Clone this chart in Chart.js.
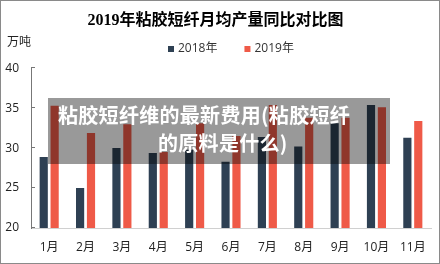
<!DOCTYPE html>
<html>
<head>
<meta charset="utf-8">
<script src="https://cdn.jsdelivr.net/npm/chart.js@4/dist/chart.umd.min.js"></script>
<style>
    body { margin: 0; background: #fff; }
    #wrap { position: relative; width: 440px; height: 264px; }
    #prodChart { display: block; }
    #frame { position: absolute; left: 0; top: 0; width: 438px; height: 262px; border: 1px solid #8a8a8a; pointer-events: none; }
    #banner { position: absolute; left: 48px; top: 98px; width: 342px; height: 66px; background: rgba(0, 0, 0, 0.4); }
    .bt { position: absolute; color: #fff; font: bold 20px "Noto Sans CJK SC", sans-serif; line-height: 24px; white-space: nowrap; letter-spacing: 0.3px; }
</style>
</head>
<body>
<div id="wrap">
    <canvas id="prodChart" width="440" height="264"></canvas>
    <div id="banner">
        <span class="bt" style="left:10px; top:5px;">粘胶短纤维的最新费用(粘胶短纤</span>
        <span class="bt" style="left:110px; top:33px;">的原料是什么)</span>
    </div>
    <div id="frame"></div>
</div>
<script>
var months = ["1月", "2月", "3月", "4月", "5月", "6月", "7月", "8月", "9月", "10月", "11月"];
var seriesNames = ["2018年", "2019年"];
var prod2018 = [28.9, 25.0, 30.0, 29.4, 29.8, 28.3, 31.4, 30.2, 33.1, 35.4, 31.3];
var prod2019 = [35.3, 31.9, 33.0, 29.5, 33.1, 31.5, 35.4, 33.8, 33.8, 35.1, 33.4];
var yTicks = [20, 25, 30, 35, 40];
var unitLabel = "万吨";
var titleText = "2019年粘胶短纤月均产量同比对比图";

var baseFont = '"Open Sans", "Noto Sans CJK SC", sans-serif';

// legend + unit label + little inner ticks on the y axis
var extras = {
    id: "extras",
    afterDraw: function (chart) {
        var ctx = chart.ctx;
        ctx.save();
        ctx.font = "12px " + baseFont;
        ctx.textBaseline = "middle";
        ctx.fillStyle = "#222";
        ctx.fillText(unitLabel, 7, 43);

        var x = 168;
        chart.data.datasets.forEach(function (ds) {
            ctx.fillStyle = ds.backgroundColor;
            ctx.fillRect(x, 46, 6, 6);
            ctx.fillStyle = "#333";
            ctx.fillText(ds.label, x + 10, 49);
            x += 10 + ctx.measureText(ds.label).width + 27;
        });

        var ys = chart.scales.y;
        ctx.strokeStyle = "#777";
        ctx.lineWidth = 1;
        yTicks.forEach(function (v) {
            var py = Math.round(ys.getPixelForValue(v)) - 0.5;
            ctx.beginPath();
            ctx.moveTo(ys.right, py);
            ctx.lineTo(ys.right + 4, py);
            ctx.stroke();
        });
        ctx.restore();
    },
};

var ctx = document.getElementById("prodChart").getContext("2d");
var chart = new Chart(ctx, {
    type: "bar",
    data: {
        labels: months,
        datasets: [
            {
                label: seriesNames[0],
                data: prod2018,
                backgroundColor: "#2e4053",
                categoryPercentage: 0.6,
                barPercentage: 0.75,
            },
            {
                label: seriesNames[1],
                data: prod2019,
                backgroundColor: "#ef5a48",
                categoryPercentage: 0.6,
                barPercentage: 0.75,
            },
        ],
    },
    options: {
        responsive: false,
        animation: false,
        layout: { padding: { left: 0, right: 9, top: 0, bottom: 10 } },
        plugins: {
            legend: { display: false },
            tooltip: { enabled: false },
            title: {
                display: true,
                text: titleText,
                color: "#000",
                font: { family: '"Liberation Serif", "Noto Sans CJK SC", serif', size: 16, weight: "bold" },
                padding: { top: 11, bottom: 38 },
            },
        },
        scales: {
            x: {
                afterFit: function (s) { s.height = 26; },
                grid: { display: false, drawTicks: false },
                border: { color: "#d0d0d0" },
                ticks: { color: "#222", font: { family: baseFont, size: 12 }, padding: 12, maxRotation: 0 },
            },
            y: {
                min: 20,
                max: 40,
                afterFit: function (s) { s.width = 31; },
                afterBuildTicks: function (s) { s.ticks = yTicks.map(function (v) { return { value: v }; }); },
                grid: { display: false, drawTicks: false },
                border: { color: "#777" },
                ticks: { color: "#222", font: { family: baseFont, size: 12 }, padding: 12 },
            },
        },
    },
    plugins: [extras],
});
</script>
</body>
</html>
